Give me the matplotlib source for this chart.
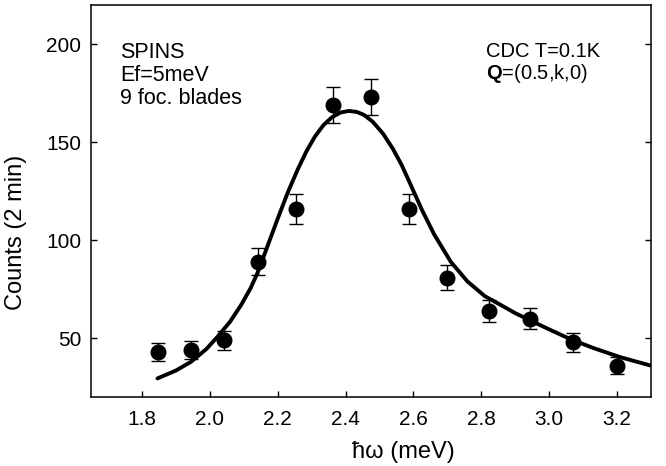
import matplotlib
matplotlib.use("Agg")
import matplotlib.pyplot as plt

plt.rcParams['font.family'] = ['Liberation Sans', 'DejaVu Sans']
plt.rcParams['mathtext.fontset'] = 'custom'
plt.rcParams['mathtext.rm'] = 'Liberation Sans'
plt.rcParams['mathtext.bf'] = 'Liberation Sans:bold'

# measured points (energy transfer, counts, error)
energy = [1.846, 1.945, 2.042, 2.143, 2.255, 2.362, 2.476, 2.586, 2.700, 2.823, 2.942, 3.071, 3.200]
counts = [43.0, 44.0, 49.0, 89.0, 116.0, 169.0, 173.0, 116.0, 81.0, 64.0, 60.0, 48.0, 36.0]
errors = [4.5, 4.4, 4.8, 6.8, 7.7, 9.2, 9.3, 7.7, 6.2, 5.7, 5.4, 4.8, 4.2]

# fit curve
fit_x = [1.846, 1.90, 1.945, 1.99, 2.023, 2.06, 2.092, 2.12, 2.141, 2.17, 2.20, 2.23,
         2.26, 2.285, 2.31, 2.335, 2.36, 2.385, 2.41, 2.433, 2.454, 2.48, 2.51, 2.54,
         2.565, 2.59, 2.625, 2.661, 2.71, 2.759, 2.81, 2.857, 2.90, 2.945, 3.00,
         3.063, 3.13, 3.21, 3.30]
fit_y = [29.5, 33.5, 38.0, 44.5, 50.8, 58.5, 66.9, 75.5, 83.5, 97.0, 111.0, 124.5,
         136.5, 145.5, 153.0, 158.8, 162.8, 165.2, 166.0, 165.5, 164.0, 160.5, 154.5, 146.5,
         138.5, 129.0, 115.5, 103.0, 89.0, 79.0, 71.5, 67.0, 62.8, 59.0, 54.5,
         49.5, 45.0, 40.3, 36.0]

fig = plt.figure(figsize=(6.66, 4.66), dpi=100)
ax = fig.add_axes([0.1366, 0.148, 0.841, 0.841])

ax.plot(fit_x, fit_y, color='black', lw=2.8, solid_capstyle='round',
        solid_joinstyle='round', zorder=2)
ax.errorbar(energy, counts, yerr=errors, fmt='o', color='black', ms=10.5,
            ecolor='black', elinewidth=1.0, capsize=5, capthick=1.0, zorder=3)

ax.set_xlim(1.65, 3.3)
ax.set_ylim(20, 220)
ax.set_xticks([1.8, 2.0, 2.2, 2.4, 2.6, 2.8, 3.0, 3.2])
ax.set_xticklabels(['1.8', '2.0', '2.2', '2.4', '2.6', '2.8', '3.0', '3.2'])
ax.set_yticks([50, 100, 150, 200])

ax.tick_params(axis='x', direction='in', length=4, width=1, labelsize=15, pad=9, top=False)
ax.tick_params(axis='y', direction='in', length=4, width=1, labelsize=15, pad=7, right=True)
for sp in ax.spines.values():
    sp.set_linewidth(1.1)

ax.set_xlabel('ħω (meV)', fontsize=17)
ax.set_ylabel('Counts (2 min)', fontsize=17)
ax.xaxis.set_label_coords(0.557, -0.112)
ax.yaxis.set_label_coords(-0.115, 0.42)

ax.text(0.052, 0.905, 'SPINS\nEf=5meV\n9 foc. blades', transform=ax.transAxes,
        fontsize=15.5, va='top', ha='left', linespacing=1.12)
ax.text(0.705, 0.905, 'CDC T=0.1K\n$\\mathbf{Q}$=(0.5,k,0)', transform=ax.transAxes,
        fontsize=14.5, va='top', ha='left', linespacing=1.05)

fig.savefig('out.png', dpi=100)
